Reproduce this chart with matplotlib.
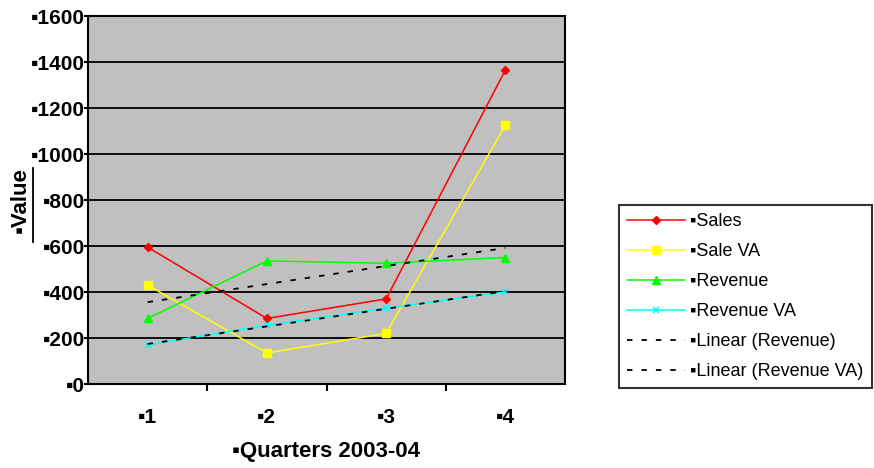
import numpy as np
import matplotlib.pyplot as plt
from matplotlib.lines import Line2D

quarters = [1, 2, 3, 4]
sales = [595, 285, 370, 1365]
sale_va = [430, 135, 220, 1125]
revenue = [285, 535, 525, 550]
revenue_va = [170, 255, 330, 400]

plt.rcParams['font.family'] = ['Liberation Sans', 'DejaVu Sans']

fig = plt.figure(figsize=(8.74, 4.68), dpi=100)
ax = fig.add_axes([88 / 874, 84 / 468, 477 / 874, 368 / 468])
ax.set_facecolor('#C0C0C0')

ax.plot(quarters, sales, color='#FF0000', marker='D', ms=4, lw=1.1, label='▪Sales')
ax.plot(quarters, sale_va, color='#FFFF00', marker='s', ms=6, lw=1.1, label='▪Sale VA')
ax.plot(quarters, revenue, color='#00FF00', marker='^', ms=6, lw=1.1, label='▪Revenue')
ax.plot(quarters, revenue_va, color='#00FFFF', marker='x', ms=5, mew=1.2, lw=1.1, label='▪Revenue VA')

# linear trend lines
x = np.array(quarters)
for ys, name in [(revenue, 'Linear (Revenue)'), (revenue_va, 'Linear (Revenue VA)')]:
    k, b = np.polyfit(x, ys, 1)
    ax.plot(x, k * x + b, color='black', ls=(0, (3, 5)), lw=1.3, label='▪' + name)

ax.set_xlim(0.5, 4.5)
ax.set_ylim(0, 1600)
ax.set_yticks(range(0, 1601, 200))
ax.set_yticklabels(['▪' + str(v) for v in range(0, 1601, 200)], fontsize=15, fontweight='bold')
ax.set_xticks(quarters)
ax.set_xticklabels(['▪' + str(q) for q in quarters], fontsize=15, fontweight='bold')
ax.set_xticks([1.5, 2.5, 3.5], minor=True)
ax.tick_params(axis='x', which='major', length=0, pad=17)
ax.tick_params(axis='x', which='minor', length=5, width=1.5, direction='out')
ax.tick_params(axis='y', length=3, width=1.5, pad=-1)
ax.grid(axis='y', color='black', lw=1.3)
ax.set_axisbelow(True)
for s in ax.spines.values():
    s.set_linewidth(1.5)

ax.set_xlabel('▪Quarters 2003-04', fontsize=16, fontweight='bold', labelpad=10)
ax.set_ylabel('▪Value', fontsize=16, fontweight='bold', labelpad=0)
fig.add_artist(Line2D([33 / 874, 33 / 874], [(468 - 242) / 468, (468 - 168) / 468], color='black', lw=1.3))

leg = ax.legend(loc='upper left', bbox_to_anchor=(619 / 874, (468 - 205) / 468),
                bbox_transform=fig.transFigure, fontsize=13, frameon=True,
                fancybox=False, edgecolor='black', handlelength=3.2,
                labelspacing=0.72, borderaxespad=0, handletextpad=0.3,
                borderpad=0.45)
leg.get_frame().set_linewidth(1.5)

fig.savefig('out.png', dpi=100)
